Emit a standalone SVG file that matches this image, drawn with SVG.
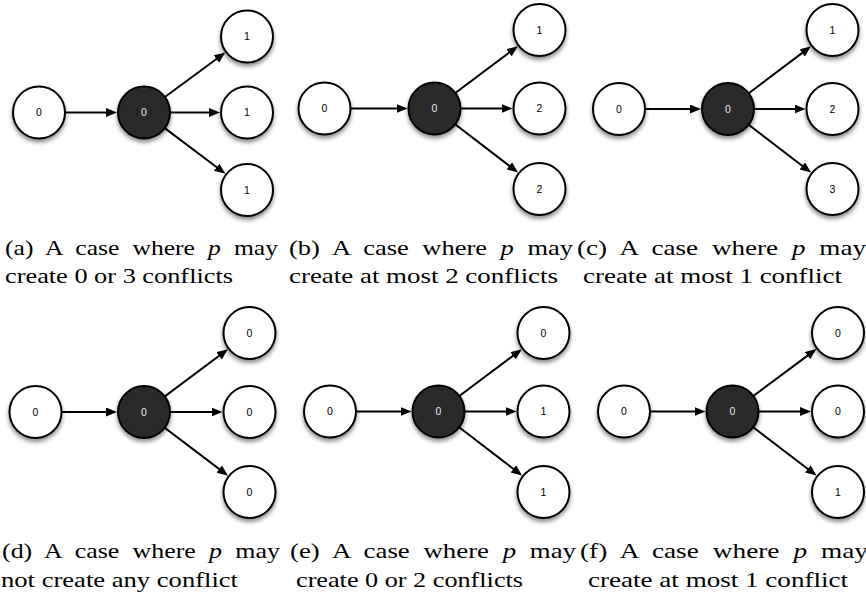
<svg xmlns="http://www.w3.org/2000/svg" width="866" height="596" viewBox="0 0 866 596">
<defs>
<filter id="sh" x="-30%" y="-30%" width="160%" height="170%">
<feDropShadow dx="0" dy="3" stdDeviation="2" flood-color="#000" flood-opacity="0.45"/>
</filter>
<marker id="ah" markerWidth="12" markerHeight="10" refX="3" refY="4.5" orient="auto" markerUnits="userSpaceOnUse">
<path d="M0,0 L11,4.5 L0,9 z" fill="#000"/>
</marker>
</defs>
<style>
.n circle{fill:#fff;stroke:#000;stroke-width:2;filter:url(#sh)}
.d circle{fill:#2b2b2b;stroke:#000;stroke-width:2;filter:url(#sh)}
.n text,.d text{font-family:"Liberation Sans",Arial,sans-serif;font-size:10.5px;text-anchor:middle;fill:#000}
.d text{fill:#e8e8e8}
.e line{stroke:#000;stroke-width:2;marker-end:url(#ah)}
.cap{font-family:"Liberation Serif","Times New Roman",serif;font-size:21px;fill:#000}
.l1{word-spacing:5.5px}
.it{font-style:italic}
</style>
<rect width="866" height="596" fill="#fff"/>

<g id="connectors" class="e">
<!-- a -->
<line x1="65" y1="112.5" x2="109" y2="112.5"/>
<line x1="170" y1="112.5" x2="212" y2="112.5"/>
<line x1="164.9" y1="97.06" x2="218.83" y2="57.28"/>
<line x1="164.78" y1="128.13" x2="219.03" y2="168.96"/>
<!-- b -->
<line x1="350.5" y1="108.5" x2="399.5" y2="108.5"/>
<line x1="460.5" y1="108.5" x2="504.5" y2="108.5"/>
<line x1="455.32" y1="92.93" x2="511.47" y2="50.96"/>
<line x1="455.14" y1="124.32" x2="511.72" y2="167.7"/>
<!-- c -->
<line x1="645" y1="109" x2="693" y2="109"/>
<line x1="754" y1="109" x2="797.5" y2="109"/>
<line x1="748.74" y1="93.32" x2="804.58" y2="51.1"/>
<line x1="748.65" y1="124.81" x2="804.71" y2="167.73"/>
<!-- d -->
<line x1="61.5" y1="412" x2="109" y2="412"/>
<line x1="170" y1="412" x2="214.5" y2="412"/>
<line x1="164.81" y1="396.42" x2="221.49" y2="353.98"/>
<line x1="164.72" y1="427.71" x2="221.62" y2="470.86"/>
<!-- e -->
<line x1="356" y1="411.5" x2="403.5" y2="411.5"/>
<line x1="464.5" y1="411.5" x2="508.5" y2="411.5"/>
<line x1="459.32" y1="395.93" x2="515.47" y2="353.96"/>
<line x1="459.14" y1="427.32" x2="515.72" y2="470.7"/>
<!-- f -->
<line x1="650" y1="411.5" x2="697.5" y2="411.5"/>
<line x1="758.5" y1="411.5" x2="803" y2="411.5"/>
<line x1="753.36" y1="395.98" x2="809.92" y2="353.9"/>
<line x1="753.17" y1="427.27" x2="810.17" y2="470.77"/>
</g>

<!-- panel a -->
<g id="a-src" class="n"><circle cx="39" cy="112.5" r="26"/><text x="39" y="116.3">0</text></g>
<g id="a-p" class="d"><circle cx="144" cy="112.5" r="26"/><text x="144" y="116.3">0</text></g>
<g id="a-t1" class="n"><circle cx="247" cy="36.5" r="26"/><text x="247" y="40.3">1</text></g>
<g id="a-t2" class="n"><circle cx="247" cy="112.5" r="26"/><text x="247" y="116.3">1</text></g>
<g id="a-t3" class="n"><circle cx="247" cy="190" r="26"/><text x="247" y="193.8">1</text></g>

<!-- panel b -->
<g id="b-src" class="n"><circle cx="324.5" cy="108.5" r="26"/><text x="324.5" y="112.3">0</text></g>
<g id="b-p" class="d"><circle cx="434.5" cy="108.5" r="26"/><text x="434.5" y="112.3">0</text></g>
<g id="b-t1" class="n"><circle cx="539.5" cy="30" r="26"/><text x="539.5" y="33.8">1</text></g>
<g id="b-t2" class="n"><circle cx="539.5" cy="108.5" r="26"/><text x="539.5" y="112.3">2</text></g>
<g id="b-t3" class="n"><circle cx="539.5" cy="189" r="26"/><text x="539.5" y="192.8">2</text></g>

<!-- panel c -->
<g id="c-src" class="n"><circle cx="619" cy="109" r="26"/><text x="619" y="112.8">0</text></g>
<g id="c-p" class="d"><circle cx="728" cy="109" r="26"/><text x="728" y="112.8">0</text></g>
<g id="c-t1" class="n"><circle cx="832.5" cy="30" r="26"/><text x="832.5" y="33.8">1</text></g>
<g id="c-t2" class="n"><circle cx="832.5" cy="109" r="26"/><text x="832.5" y="112.8">2</text></g>
<g id="c-t3" class="n"><circle cx="832.5" cy="189" r="26"/><text x="832.5" y="192.8">3</text></g>

<!-- panel d -->
<g id="d-src" class="n"><circle cx="35.5" cy="412" r="26"/><text x="35.5" y="415.8">0</text></g>
<g id="d-p" class="d"><circle cx="144" cy="412" r="26"/><text x="144" y="415.8">0</text></g>
<g id="d-t1" class="n"><circle cx="249.5" cy="333" r="26"/><text x="249.5" y="336.8">0</text></g>
<g id="d-t2" class="n"><circle cx="249.5" cy="412" r="26"/><text x="249.5" y="415.8">0</text></g>
<g id="d-t3" class="n"><circle cx="249.5" cy="492" r="26"/><text x="249.5" y="495.8">0</text></g>

<!-- panel e -->
<g id="e-src" class="n"><circle cx="330" cy="411.5" r="26"/><text x="330" y="415.3">0</text></g>
<g id="e-p" class="d"><circle cx="438.5" cy="411.5" r="26"/><text x="438.5" y="415.3">0</text></g>
<g id="e-t1" class="n"><circle cx="543.5" cy="333" r="26"/><text x="543.5" y="336.8">0</text></g>
<g id="e-t2" class="n"><circle cx="543.5" cy="411.5" r="26"/><text x="543.5" y="415.3">1</text></g>
<g id="e-t3" class="n"><circle cx="543.5" cy="492" r="26"/><text x="543.5" y="495.8">1</text></g>

<!-- panel f -->
<g id="f-src" class="n"><circle cx="624" cy="411.5" r="26"/><text x="624" y="415.3">0</text></g>
<g id="f-p" class="d"><circle cx="732.5" cy="411.5" r="26"/><text x="732.5" y="415.3">0</text></g>
<g id="f-t1" class="n"><circle cx="838" cy="333" r="26"/><text x="838" y="336.8">0</text></g>
<g id="f-t2" class="n"><circle cx="838" cy="411.5" r="26"/><text x="838" y="415.3">0</text></g>
<g id="f-t3" class="n"><circle cx="838" cy="492" r="26"/><text x="838" y="495.8">1</text></g>

<g id="captions" class="cap">
<text class="l1" x="5" y="255" textLength="273" lengthAdjust="spacingAndGlyphs">(a) A case where <tspan class="it">p</tspan> may</text>
<text x="5" y="283" textLength="228" lengthAdjust="spacingAndGlyphs">create 0 or 3 conflicts</text>
<text class="l1" x="289" y="255" textLength="284" lengthAdjust="spacingAndGlyphs">(b) A case where <tspan class="it">p</tspan> may</text>
<text x="289" y="283" textLength="269" lengthAdjust="spacingAndGlyphs">create at most 2 conflicts</text>
<text class="l1" x="577" y="255" textLength="289" lengthAdjust="spacingAndGlyphs">(c) A case where <tspan class="it">p</tspan> may</text>
<text x="583" y="283" textLength="259" lengthAdjust="spacingAndGlyphs">create at most 1 conflict</text>
<text class="l1" x="2" y="558" textLength="278" lengthAdjust="spacingAndGlyphs">(d) A case where <tspan class="it">p</tspan> may</text>
<text x="1" y="587" textLength="237" lengthAdjust="spacingAndGlyphs">not create any conflict</text>
<text class="l1" x="290" y="558" textLength="286" lengthAdjust="spacingAndGlyphs">(e) A case where <tspan class="it">p</tspan> may</text>
<text x="296" y="587" textLength="227" lengthAdjust="spacingAndGlyphs">create 0 or 2 conflicts</text>
<text class="l1" x="580" y="558" textLength="288" lengthAdjust="spacingAndGlyphs">(f) A case where <tspan class="it">p</tspan> may</text>
<text x="588" y="587" textLength="260" lengthAdjust="spacingAndGlyphs">create at most 1 conflict</text>
</g>
</svg>
